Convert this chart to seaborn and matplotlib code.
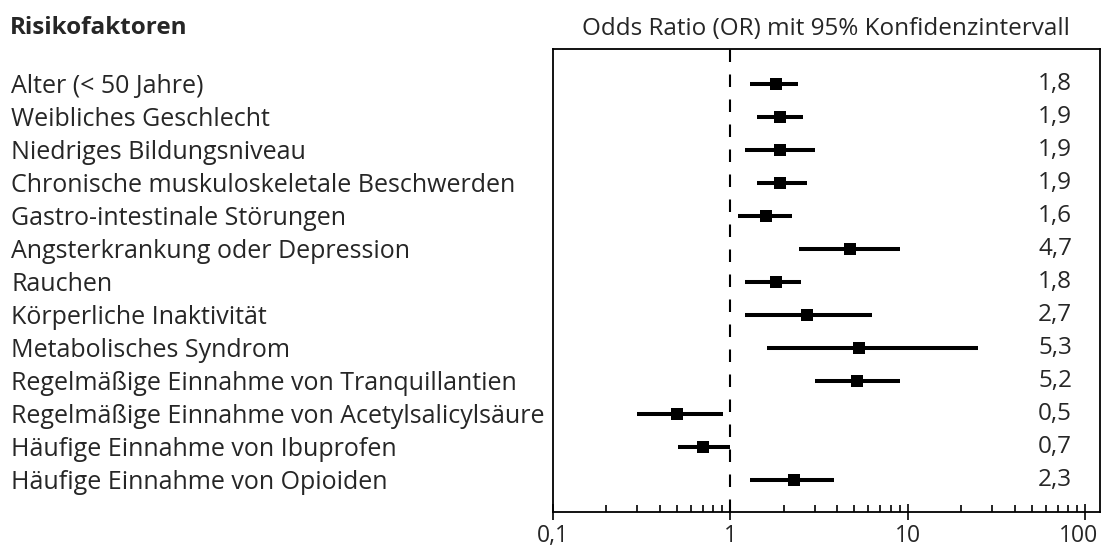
import numpy as np
import pandas as pd
import seaborn as sns
import matplotlib.pyplot as plt
from matplotlib.ticker import FixedLocator, FixedFormatter
from matplotlib.transforms import ScaledTranslation

# Risikofaktoren und Odds Ratios (mit 95%-KI)
faktoren = [
    "Alter (< 50 Jahre)",
    "Weibliches Geschlecht",
    "Niedriges Bildungsniveau",
    "Chronische muskuloskeletale Beschwerden",
    "Gastro-intestinale Störungen",
    "Angsterkrankung oder Depression",
    "Rauchen",
    "Körperliche Inaktivität",
    "Metabolisches Syndrom",
    "Regelmäßige Einnahme von Tranquillantien",
    "Regelmäßige Einnahme von Acetylsalicylsäure",
    "Häufige Einnahme von Ibuprofen",
    "Häufige Einnahme von Opioiden",
]
odds_ratio = [1.8, 1.9, 1.9, 1.9, 1.6, 4.7, 1.8, 2.7, 5.3, 5.2, 0.5, 0.7, 2.3]
ki_unten = [1.30, 1.41, 1.21, 1.41, 1.11, 2.43, 1.21, 1.21, 1.62, 3.0, 0.30, 0.505, 1.30]
ki_oben = [2.42, 2.58, 3.0, 2.72, 2.22, 9.0, 2.49, 6.3, 24.7, 9.0, 0.905, 1.0, 3.85]
x_ticks = [0.1, 1, 10, 100]
x_labels = ["0,1", "1", "10", "100"]

df = pd.DataFrame({"Faktor": faktoren, "OR": odds_ratio,
                   "KI_unten": ki_unten, "KI_oben": ki_oben})
df["pos"] = np.arange(len(df))

sns.set_theme(style="white")
plt.rcParams['font.family'] = ['Open Sans', 'DejaVu Sans']
fs = 17.5

fig = plt.figure(figsize=(11.03, 5.51), dpi=100)
ax = fig.add_axes([0.5011, 0.0713, 0.4962, 0.8392])

# Konfidenzintervalle
ax.hlines(df["pos"], df["KI_unten"], df["KI_oben"], color="black", lw=2.9, zorder=2)
# Punktschaetzer
sns.scatterplot(data=df, x="OR", y="pos", marker="s", s=65, color="black",
                edgecolor="black", linewidth=0, ax=ax, zorder=3)
# Referenzlinie OR = 1
ax.axvline(1, color="black", lw=1.5, dashes=(6, 6), zorder=1)

ax.set_xscale("log")
ax.set_xlim(0.1, 121)
ax.set_ylim(12.97, -1.04)

ax.xaxis.set_major_locator(FixedLocator(x_ticks))
ax.xaxis.set_major_formatter(FixedFormatter(x_labels))
minor = [m * d for d in [0.1, 1, 10] for m in range(2, 10)]
ax.xaxis.set_minor_locator(FixedLocator(minor))
ax.tick_params(axis="x", which="major", direction="inout", length=12, width=1.2,
               labelsize=16.5, pad=3, bottom=True, color="black")
ax.tick_params(axis="x", which="minor", direction="in", length=5, width=1.2,
               bottom=True, color="black")

# Beschriftungen links als y-Ticklabels
ax.set_yticks(df["pos"])
ax.set_yticklabels(df["Faktor"], ha="left", fontsize=18)
ax.tick_params(axis="y", length=0, pad=390)

ax.set_xlabel("")
ax.set_ylabel("")
for sp in ax.spines.values():
    sp.set_color("black")
    sp.set_linewidth(1.3)

# "100" etwas nach links, damit es nicht abgeschnitten wird
lbl = ax.get_xticklabels()[-1]
lbl.set_transform(lbl.get_transform() + ScaledTranslation(-7 / 100, 0, fig.dpi_scale_trans))

# OR-Werte rechts
for p, v in zip(df["pos"], df["OR"]):
    ax.text(0.949, p, f"{v:.1f}".replace(".", ","), transform=ax.get_yaxis_transform(),
            ha="right", va="center", fontsize=fs)

fig.text(0.009, 0.95, "Risikofaktoren", fontsize=fs, fontweight="bold",
         ha="left", va="center")
ax.set_title("Odds Ratio (OR) mit 95% Konfidenzintervall", fontsize=fs, pad=10)

fig.savefig("out.png", dpi=100)
